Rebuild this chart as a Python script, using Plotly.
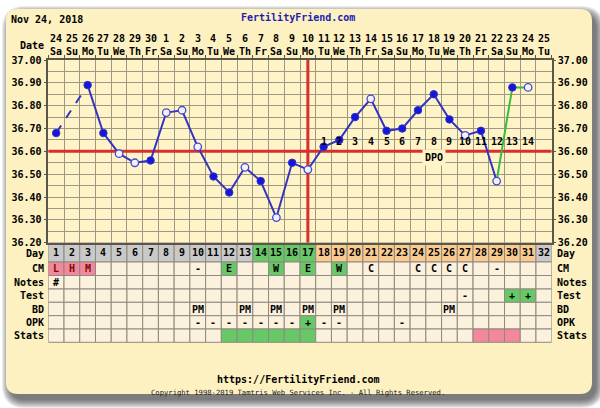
import plotly.graph_objects as go

W, H = 600, 408
def px(x): return x / W
def py(y): return 1 - y / H

# ---------------- data ----------------
days = list(range(1, 33))
date_labels = ["24", "25", "26", "27", "28", "29", "30"] + [str(i) for i in range(1, 26)]
weekday_labels = (["Sa", "Su", "Mo", "Tu", "We", "Th", "Fr"] * 5)[:32]
temps = [36.68, None, 36.89, 36.68, 36.59, 36.55, 36.56, 36.77, 36.78, 36.62,
         36.49, 36.42, 36.53, 36.47, 36.31, 36.55, 36.52, 36.62, 36.65, 36.75,
         36.83, 36.69, 36.70, 36.78, 36.85, 36.74, 36.67, 36.69, 36.47, 36.88,
         36.88, None]
open_marker = [0, 0, 0, 0, 1, 1, 0, 1, 1, 1,
               0, 0, 1, 0, 1, 0, 1, 0, 0, 0,
               1, 0, 0, 0, 0, 0, 1, 0, 1, 0,
               1, 0]
coverline = 36.60
ovulation_day = 17
dpo_days = list(range(18, 32))
dpo_labels = [str(i) for i in range(1, 15)]
y_ticks = [36.20, 36.30, 36.40, 36.50, 36.60, 36.70, 36.80, 36.90, 37.00]
day_phase = ["g"] * 13 + ["f"] * 4 + ["l"] * 14 + ["g"]
cm_row = ["L", "H", "M", "", "", "", "", "", "", "-", "", "E", "", "", "W", "",
          "E", "", "W", "", "C", "", "", "C", "C", "C", "C", "", "-", "", "", ""]
notes_row = ["#"] + [""] * 31
test_row = [""] * 26 + ["-", "", "", "+", "+", ""]
bd_row = [""] * 9 + ["PM", "", "", "PM", "", "PM", "", "PM", "", "PM", "", "", "", "", "", "", "PM"] + [""] * 6
opk_row = [""] * 9 + ["-"] * 7 + ["+", "-", "-", "", "", "", "-"] + [""] * 9
stats_row = [""] * 11 + ["F"] * 6 + [""] * 10 + ["P"] * 3 + [""] * 2

# ---------------- style ----------------
FONT = "DejaVu Sans Mono"
PANEL = "#FDF1C2"
PLOTBG = "#FEF4C8"
GRID = "#9E9982"
FRAME = "#5A5648"
CELL = "#FBF1DC"
BORDER = "#8E8A80"
GRAY = "#C9C9C9"
GREEN = "#66C866"
PEACH = "#FACB90"
PINK = "#F3879B"
BLUE_LINE = "#3434C0"
BLUE_DOT = "#1515DC"
RED = "#D63030"
LIME = "#3DBB3D"

X0, X1 = 48.3, 551.7
Y0, Y1 = 60.0, 242.7

fig = go.Figure()

# coverline & ovulation line
fig.add_trace(go.Scatter(x=[0.5, 32.5], y=[coverline, coverline], mode="lines",
                         line=dict(color=RED, width=3), hoverinfo="skip", showlegend=False))
fig.add_trace(go.Scatter(x=[ovulation_day, ovulation_day], y=[36.2, 37.0], mode="lines",
                         line=dict(color=RED, width=3), hoverinfo="skip", showlegend=False))

# temperature lines
fig.add_trace(go.Scatter(x=[days[0], days[2]], y=[temps[0], temps[2]], mode="lines",
                         line=dict(color=BLUE_LINE, width=2, dash="dash"), showlegend=False))
fig.add_trace(go.Scatter(x=days[2:29], y=temps[2:29], mode="lines",
                         line=dict(color=BLUE_LINE, width=2), showlegend=False))
fig.add_trace(go.Scatter(x=days[28:31], y=temps[28:31], mode="lines",
                         line=dict(color=LIME, width=2), showlegend=False))

fx = [d for d, t, o in zip(days, temps, open_marker) if t is not None and not o]
fy = [t for d, t, o in zip(days, temps, open_marker) if t is not None and not o]
ox = [d for d, t, o in zip(days, temps, open_marker) if t is not None and o]
oy = [t for d, t, o in zip(days, temps, open_marker) if t is not None and o]
fig.add_trace(go.Scatter(x=fx, y=fy, mode="markers",
                         marker=dict(size=7.5, color=BLUE_DOT, line=dict(color=BLUE_LINE, width=1)),
                         showlegend=False))
fig.add_trace(go.Scatter(x=ox, y=oy, mode="markers",
                         marker=dict(size=7.5, color="#F2F2FF", line=dict(color="#4848CC", width=1.3)),
                         showlegend=False))

# ---------------- shapes ----------------
shapes = []

def rrect(x0, y0, x1, y1, r):
    a, b, c, d = px(x0), px(x1), py(y0), py(y1)
    rx, ry = r / W, r / H
    return (f"M {a+rx},{c} L {b-rx},{c} Q {b},{c} {b},{c-ry} L {b},{d+ry} "
            f"Q {b},{d} {b-rx},{d} L {a+rx},{d} Q {a},{d} {a},{d+ry} "
            f"L {a},{c-ry} Q {a},{c} {a+rx},{c} Z")

for k in range(9):
    s = 9 - k
    shapes.append(dict(type="path", xref="paper", yref="paper", layer="below",
                       path=rrect(11 - s, 15 - s, 595 + s, 399 + s, 14 + s),
                       fillcolor="rgba(30,30,30,0.09)", line=dict(width=0)))
shapes.append(dict(type="path", xref="paper", yref="paper", layer="below",
                   path=rrect(6, 9, 592, 394, 12), fillcolor=PANEL, line=dict(width=0)))
shapes.append(dict(type="rect", xref="paper", yref="paper", layer="below",
                   x0=px(X0), x1=px(X1), y0=py(Y1), y1=py(Y0), fillcolor=PLOTBG, line=dict(width=0)))

rows = [("Day", 243.0, 262.0), ("CM", 262.0, 275.5), ("Notes", 275.5, 289.0),
        ("Test", 289.0, 302.3), ("BD", 302.3, 315.7), ("OPK", 315.7, 329.0),
        ("Stats", 329.0, 342.3)]
phase_col = {"g": GRAY, "f": GREEN, "l": PEACH}

def cell_fill(row, i):
    if row == "Day":
        return phase_col[day_phase[i]]
    if row == "CM":
        v = cm_row[i]
        return PINK if v in ("L", "H", "M") else (GREEN if v in ("E", "W") else CELL)
    if row == "Test":
        return GREEN if test_row[i] == "+" else CELL
    if row == "OPK":
        return GREEN if opk_row[i] == "+" else CELL
    if row == "Stats":
        return {"F": GREEN, "P": PINK}.get(stats_row[i], CELL)
    return CELL

row_text = {"Day": [str(d) for d in days], "CM": cm_row, "Notes": notes_row,
            "Test": test_row, "BD": bd_row, "OPK": opk_row, "Stats": stats_row}

annotations = []

def ann(x, y, text, xref="paper", yref="paper", xanchor="center", font=None, **kw):
    d = dict(x=x, y=y, xref=xref, yref=yref, text=text, showarrow=False,
             xanchor=xanchor, yanchor="middle", font=font)
    d.update(kw)
    annotations.append(d)

for name, ya, yb in rows:
    for i, d in enumerate(days):
        shapes.append(dict(type="rect", xref="x", yref="paper", layer="below",
                           x0=d - 0.5, x1=d + 0.5, y0=py(yb), y1=py(ya),
                           fillcolor=cell_fill(name, i), line=dict(color=BORDER, width=1)))
        t = row_text[name][i]
        if name != "Stats" and t:
            col = "#7A0A0A" if (name == "CM" and t in ("L", "H", "M")) else "black"
            ann(d, py((ya + yb) / 2), t, xref="x",
                font=dict(family=FONT, size=10, color=col, weight="bold"))
    ym = py((ya + yb) / 2)
    if name == "Day":
        ym = py(253)
    lf = dict(family=FONT, size=10, color="black", weight="bold")
    ann(px(46), ym, name, xanchor="right", font=lf)
    ann(px(555), ym, name, xanchor="left", font=lf)

# header
hdr = dict(family=FONT, size=10, color="black", weight="bold")
ann(px(9), py(19), "Nov 24, 2018", xanchor="left", font=hdr)
ann(px(298), py(18), "FertilityFriend.com",
    font=dict(family=FONT, size=10, color="#1E1EB0", weight="bold"))
ann(px(46), py(45), "Date", xanchor="right", font=hdr)
for d, dl, wl in zip(days, date_labels, weekday_labels):
    ann(d, py(38.5), dl, xref="x", font=hdr)
    ann(d, py(51), wl, xref="x", font=hdr)

# DPO
for d, lab in zip(dpo_days, dpo_labels):
    ann(d, 36.642, lab, xref="x", yref="y", font=hdr)
ann(25, 36.574, "DPO", xref="x", yref="y", font=hdr, bgcolor=PLOTBG, borderpad=2)

# footer
ann(px(298), py(379), "https://FertilityFriend.com", font=hdr)
ann(px(298), py(392.5), "Copyright 1998-2019 Tamtris Web Services Inc. - All Rights Reserved.",
    font=dict(family=FONT, size=7.2, color="#1a1a1a"))

tickfont = dict(family=FONT, size=10, color="black", weight="bold")
ytext = [f"{v:.2f}" for v in y_ticks]

fig.update_layout(
    width=W, height=H, margin=dict(l=0, r=0, t=0, b=0, pad=0, autoexpand=False),
    paper_bgcolor="white", plot_bgcolor="rgba(0,0,0,0)",
    showlegend=False, shapes=shapes, annotations=annotations,
    xaxis=dict(domain=[px(X0), px(X1)], range=[0.5, 32.5], side="top",
               tickmode="array", tickvals=[d - 0.5 for d in days] + [32.5],
               showticklabels=False, ticks="outside", ticklen=3, tickcolor=FRAME,
               showgrid=True, gridcolor=GRID, gridwidth=1, zeroline=False, automargin=False,
               showline=True, linecolor=FRAME, linewidth=1.5, mirror=True, fixedrange=True),
    yaxis=dict(domain=[py(Y1), py(Y0)], range=[36.2, 37.0], automargin=False,
               tickmode="array", tickvals=y_ticks, ticktext=ytext, tickfont=tickfont,
               ticks="outside", ticklen=3, tickcolor=FRAME,
               showgrid=True, gridcolor=GRID, gridwidth=1, zeroline=False,
               minor=dict(tickmode="linear", tick0=36.2, dtick=0.05, showgrid=True,
                          gridcolor=GRID, gridwidth=1, ticks=""),
               showline=True, linecolor=FRAME, linewidth=1.5, mirror=True, fixedrange=True),
    yaxis2=dict(overlaying="y", side="right", range=[36.2, 37.0], automargin=False,
                tickmode="array", tickvals=y_ticks, ticktext=ytext, tickfont=tickfont,
                ticks="outside", ticklen=3, tickcolor=FRAME, showgrid=False,
                zeroline=False, showline=False, fixedrange=True),
)
# invisible trace to activate the right axis
fig.add_trace(go.Scatter(x=[1], y=[36.2], yaxis="y2", mode="markers",
                         marker=dict(opacity=0), hoverinfo="skip", showlegend=False))

fig.write_html("out.html", config={"displayModeBar": False},
               post_script="document.body.style.margin='0';document.body.style.overflow='hidden';")
